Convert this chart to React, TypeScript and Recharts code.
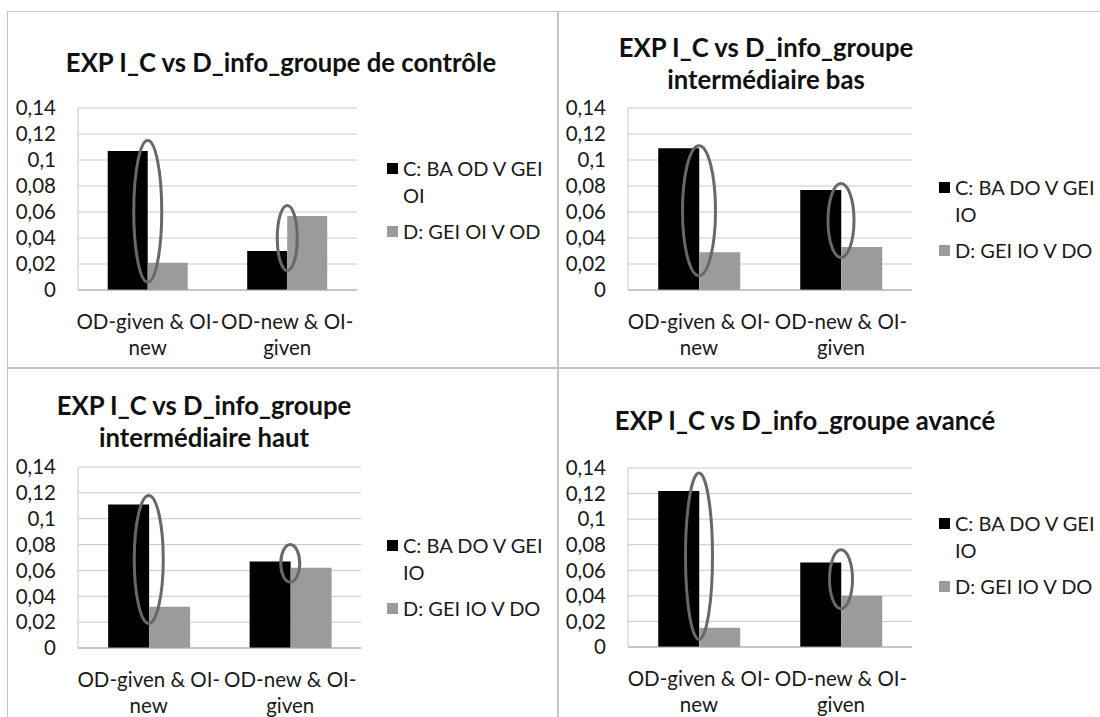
import React from "react";
import { BarChart, Bar, XAxis, YAxis, CartesianGrid, ReferenceArea, Legend } from "recharts";

const FONT = "Lato, 'Open Sans', sans-serif";

const categories = ["OD-given & OI-new", "OD-new & OI-given"];
const yTicks = [0, 0.02, 0.04, 0.06, 0.08, 0.1, 0.12, 0.14];

const namesControl = ["C: BA OD V GEI OI", "D: GEI OI V OD"];
const namesOthers = ["C: BA DO V GEI IO", "D: GEI IO V DO"];

const titleControl = ["EXP I_C vs D_info_groupe de contrôle"];
const titleLow = ["EXP I_C vs D_info_groupe", "intermédiaire bas"];
const titleHigh = ["EXP I_C vs D_info_groupe", "intermédiaire haut"];
const titleAdvanced = ["EXP I_C vs D_info_groupe avancé"];

const controlC = [0.107, 0.03];
const controlD = [0.021, 0.057];
const lowC = [0.109, 0.077];
const lowD = [0.029, 0.033];
const highC = [0.111, 0.067];
const highD = [0.032, 0.062];
const advancedC = [0.122, 0.066];
const advancedD = [0.015, 0.04];

// circled pairs: [category index, from, to]
const controlRings = [[0, 0.006, 0.115], [1, 0.015, 0.065]];
const lowRings = [[0, 0.011, 0.111], [1, 0.025, 0.082]];
const highRings = [[0, 0.019, 0.118], [1, 0.051, 0.08]];
const advancedRings = [[0, 0.006, 0.136], [1, 0.03, 0.076]];

// layout, page pixels
const panels = [
  { id: "control", title: titleControl, names: namesControl, c: controlC, d: controlD, rings: controlRings,
    box: [7, 11, 551, 357], plot: [78, 108, 357, 290], titleAt: [281, 62], legendAt: [387, 168], ringRx: [14, 10] },
  { id: "low", title: titleLow, names: namesOthers, c: lowC, d: lowD, rings: lowRings,
    box: [558, 11, 560, 357], plot: [628, 108, 912, 290], titleAt: [766, 47], legendAt: [939, 187], ringRx: [16.5, 13] },
  { id: "high", title: titleHigh, names: namesOthers, c: highC, d: highD, rings: highRings,
    box: [7, 368, 551, 360], plot: [78, 467, 361, 648], titleAt: [204, 405], legendAt: [387, 545], ringRx: [14.5, 9.5] },
  { id: "advanced", title: titleAdvanced, names: namesOthers, c: advancedC, d: advancedD, rings: advancedRings,
    box: [558, 368, 560, 360], plot: [628, 468, 912, 647], titleAt: [805, 420], legendAt: [939, 523], ringRx: [13.5, 11.5] },
];

const Y_W = 60;
const X_H = 70;

const fmt = (v: number) => String(v).replace(".", ",");

function CatTick({ x, y, payload }: any) {
  const s: string = payload.value;
  const k = s.lastIndexOf("-") + 1;
  return (
    <text x={x} y={y} textAnchor="middle" fontFamily={FONT} fontSize={20.5} fill="#1a1a1a">
      <tspan x={x} dy={31}>{s.slice(0, k)}</tspan>
      <tspan x={x} dy={26}>{s.slice(k)}</tspan>
    </text>
  );
}

function LegendList({ payload }: any) {
  return (
    <div style={{ fontFamily: FONT, fontSize: 20, color: "#1a1a1a" }}>
      {(payload || []).map((p: any) => (
        <div key={p.value} style={{ display: "flex", alignItems: "flex-start", marginBottom: 9 }}>
          <span style={{ width: 11, height: 11, background: p.color, marginTop: 8, marginRight: 5, flex: "none" }} />
          <span style={{ width: 145, lineHeight: "27px" }}>{p.value}</span>
        </div>
      ))}
    </div>
  );
}

const ring = (rx: number) => (r: any) => (
  <ellipse cx={r.x + r.width / 2} cy={r.y + r.height / 2} rx={rx} ry={Math.abs(r.height) / 2}
    fill="none" stroke="#686868" strokeWidth={3} />
);

function Panel({ p }: any) {
  const [bx, by, bw, bh] = p.box;
  const [px0, py0, px1, py1] = p.plot;
  const data = categories.map((cat, i) => ({ cat, c: p.c[i], d: p.d[i] }));
  const margin = { left: px0 - bx - Y_W, top: py0 - by, right: bx + bw - px1, bottom: by + bh - py1 - X_H };
  const [tx, ty] = p.titleAt;
  const [lx, ly] = p.legendAt;
  return (
    <>
      <div style={{ position: "absolute", left: bx, top: by, width: bw, height: bh, boxSizing: "border-box",
        border: "1px solid #c4c4c4", background: "#fff" }} />
      <div style={{ position: "absolute", left: tx - 260, top: ty - 16, width: 520, textAlign: "center",
        fontFamily: FONT, fontWeight: 700, fontSize: 25.7, lineHeight: "32px", color: "#111" }}>
        {p.title.map((t: string) => <div key={t}>{t}</div>)}
      </div>
      <div style={{ position: "absolute", left: bx, top: by }}>
        <BarChart width={bw} height={bh} data={data} margin={margin} barCategoryGap="21.3%" barGap={0}>
          <CartesianGrid vertical={false} stroke="#c8c8c8" />
          <XAxis dataKey="cat" interval={0} height={X_H} tickLine={false} axisLine={{ stroke: "#a9a9a9" }}
            tick={<CatTick />} />
          <YAxis domain={[0, 0.14]} ticks={yTicks} interval={0} width={Y_W} tickLine={false}
            axisLine={{ stroke: "#c8c8c8" }} tickFormatter={fmt} tickMargin={16}
            tick={{ fontFamily: FONT, fontSize: 20.5, fill: "#1a1a1a" }} />
          <Bar dataKey="c" name={p.names[0]} fill="#000000" isAnimationActive={false} />
          <Bar dataKey="d" name={p.names[1]} fill="#9b9b9b" isAnimationActive={false} />
          {p.rings.map((r: number[], i: number) => (
            <ReferenceArea key={i} x1={categories[r[0]]} x2={categories[r[0]]} y1={r[1]} y2={r[2]}
              shape={ring(p.ringRx[i])} ifOverflow="visible" zIndex={2000} />
          ))}
          <Legend layout="vertical" align="center" verticalAlign="middle" content={<LegendList />}
            wrapperStyle={{ left: lx - bx, top: ly - 13.5 - by, width: 170 }} />
        </BarChart>
      </div>
    </>
  );
}

export default function App() {
  return (
    <div style={{ position: "absolute", left: 0, top: 0, width: 1100, height: 717, overflow: "hidden", background: "#fff" }}>
      {panels.map((p) => <Panel key={p.id} p={p} />)}
    </div>
  );
}
